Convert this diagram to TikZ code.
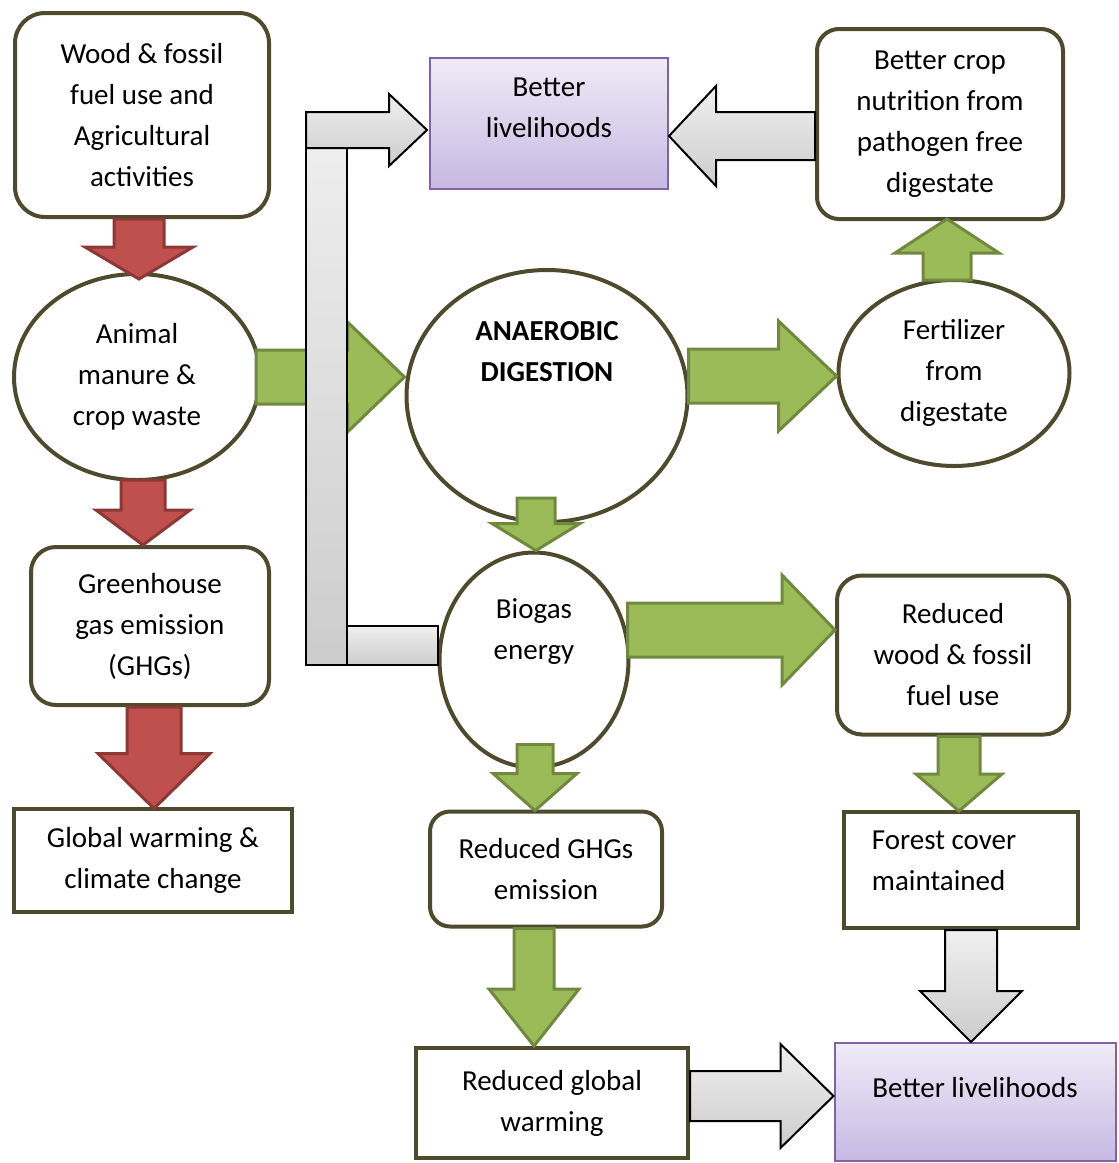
\documentclass[tikz,border=0pt]{standalone}
\usepackage{fontspec}
\setmainfont{Carlito}
\usepackage{tikz}
\usetikzlibrary{positioning,shapes.geometric,calc}

\definecolor{edge}{HTML}{4E4A2E}
\definecolor{redfill}{HTML}{C0504D}
\definecolor{reddraw}{HTML}{8C3836}
\definecolor{greenfill}{HTML}{9BBB59}
\definecolor{greendraw}{HTML}{71893F}
\definecolor{purpledraw}{HTML}{8064A2}
\definecolor{purpletop}{HTML}{EFEBF7}
\definecolor{purplebot}{HTML}{C7B9E3}

% block arrows: style, start, tip, half shaft, half head, head length
\newcommand{\vblock}[6]{%
  \draw[#1] let \p1=(#2), \p2=(#3), \n1={\y2+(#6)} in
    ({\x1-#4},\y1) -- ({\x1-#4},\n1) -- ({\x1-#5},\n1) -- (\x1,\y2)
    -- ({\x1+#5},\n1) -- ({\x1+#4},\n1) -- ({\x1+#4},\y1) -- cycle;}
\newcommand{\hblock}[6]{%
  \draw[#1] let \p1=(#2), \p2=(#3), \n1={\x2-(#6)} in
    (\x1,{\y1+#4}) -- (\n1,{\y1+#4}) -- (\n1,{\y1+#5}) -- (\x2,\y1)
    -- (\n1,{\y1-#5}) -- (\n1,{\y1-#4}) -- (\x1,{\y1-#4}) -- cycle;}

\begin{document}
\begin{tikzpicture}[x=1pt, y=-1pt, font=\fontsize{29}{41}\selectfont,
    box/.style={draw=edge, line width=4pt, fill=white, rounded corners=25pt, align=center, inner sep=0pt},
    sqbox/.style={draw=edge, line width=4pt, fill=white, align=center, inner sep=0pt},
    oval/.style={ellipse, draw=edge, line width=4pt, fill=white, align=center, inner sep=0pt},
    goodbox/.style={draw=purpledraw, line width=2pt, top color=purpletop, bottom color=purplebot, align=center, inner sep=0pt},
    redarr/.style={fill=redfill, draw=reddraw, line width=3pt, line join=miter},
    greenarr/.style={fill=greenfill, draw=greendraw, line width=3pt, line join=miter},
    greyarr/.style={top color=gray!12, bottom color=gray!40, draw=black, line width=2pt}]
    \useasboundingbox (0,0) rectangle (1119,1163);

    % Left column
    \node[box, rounded corners=30pt, minimum width=254pt, minimum height=204pt] (wood) at (142,115) {Wood \& fossil\\fuel use and\\Agricultural\\activities};
    \node[oval, minimum width=246pt, minimum height=206pt] (manure) at (137,377) {Animal\\manure \&\\crop waste};
    \node[box, minimum width=238pt, minimum height=158pt] (ghg) at (150,626) {Greenhouse\\gas emission\\(GHGs)};
    \node[sqbox, minimum width=278pt, minimum height=103pt] (warming) at (153,860) {Global warming \&\\climate change};

    % Middle column
    \node[goodbox, minimum width=238pt, minimum height=131pt,
          label={[yshift=15pt, align=center]center:{Better\\livelihoods}}] (live1) at (549,123) {};
    \node[oval, minimum width=281pt, minimum height=252pt,
          label={[yshift=44pt, align=center, font=\fontsize{29}{41}\selectfont\bfseries]center:{ANAEROBIC\\DIGESTION}}] (ad) at (547,396) {};
    \node[oval, minimum width=189pt, minimum height=215pt,
          label={[yshift=28pt, align=center]center:{Biogas\\energy}}] (biogas) at (534,660) {};
    \node[box, rounded corners=20pt, minimum width=232pt, minimum height=115pt] (redghg) at (546,869) {Reduced GHGs\\emission};
    \node[sqbox, minimum width=272pt, minimum height=110pt] (redwarm) at (552,1103) {Reduced global\\warming};

    % Right column
    \node[box, rounded corners=22pt, minimum width=246pt, minimum height=190pt] (crop) at (940,124) {Better crop\\nutrition from\\pathogen free\\digestate};
    \node[oval, minimum width=231pt, minimum height=186pt] (fert) at (954,373) {Fertilizer\\from\\digestate};
    \node[box, minimum width=232pt, minimum height=159pt] (redwood) at (953,655) {Reduced\\wood \& fossil\\fuel use};
    \node[sqbox, minimum width=234pt, minimum height=116pt,
          label={[xshift=-17pt, yshift=9pt, align=left]center:{Forest cover\\maintained}}] (forest) at (961,870) {};
    \node[goodbox, minimum width=281pt, minimum height=118pt,
          label={[yshift=14pt]center:Better livelihoods}] (live2) at (975,1102) {};

    % Red arrows
    \vblock{redarr}{$(wood.south)+(-3,0)$}{$(manure.north)+(0,7)$}{25pt}{54pt}{32pt}
    \vblock{redarr}{$(manure.south)+(6,-2)$}{ghg.north}{22pt}{47pt}{35pt}
    \vblock{redarr}{$(ghg.south)+(4,0)$}{$(warming.north)+(0,2)$}{27pt}{56pt}{55pt}

    % Green arrows
    \hblock{greenarr}{$(manure.east)+(-6,0)$}{ad.west}{27pt}{55pt}{57pt}
    \vblock{greenarr}{$(ad.south)+(-11,-26)$}{biogas.north}{19pt}{44pt}{27pt}
    \hblock{greenarr}{$(ad.east)+(-1,-20)$}{fert.west}{27pt}{55pt}{58pt}
    \vblock{greenarr}{$(fert.north)+(-7,2)$}{$(crop.south)+(0,-2)$}{24pt}{52pt}{-34pt}
    \hblock{greenarr}{$(biogas.east)+(-3,-30)$}{redwood.west}{27pt}{55pt}{53pt}
    \vblock{greenarr}{$(biogas.south)+(1,-25)$}{$(redghg.north)+(0,1)$}{18pt}{42pt}{37pt}
    \vblock{greenarr}{$(redwood.south)+(6,0)$}{$(forest.north)+(0,1)$}{21pt}{43pt}{37pt}
    \vblock{greenarr}{$(redghg.south)+(-12,0)$}{redwarm.north}{20pt}{45pt}{57pt}

    % Grey arrows
    \vblock{greyarr}{$(forest.south)+(10,0)$}{live2.north}{26pt}{51pt}{51pt}
    \hblock{greyarr}{$(redwarm.east)+(0,-7)$}{live2.west}{25pt}{52pt}{53pt}
    \hblock{greyarr}{$(crop.west)+(0,12)$}{live1.east}{24pt}{50pt}{-47pt}

    % Bent grey arrow from biogas to livelihoods
    \draw[greyarr] (340,626) rectangle (438,665);
    \draw[greyarr] (306,112) rectangle (347,665);
    \draw[greyarr] (306,112) -- (389,112) -- (389,94) -- (427,130) -- (389,166) -- (389,148) -- (306,148) -- cycle;
\end{tikzpicture}
\end{document}
